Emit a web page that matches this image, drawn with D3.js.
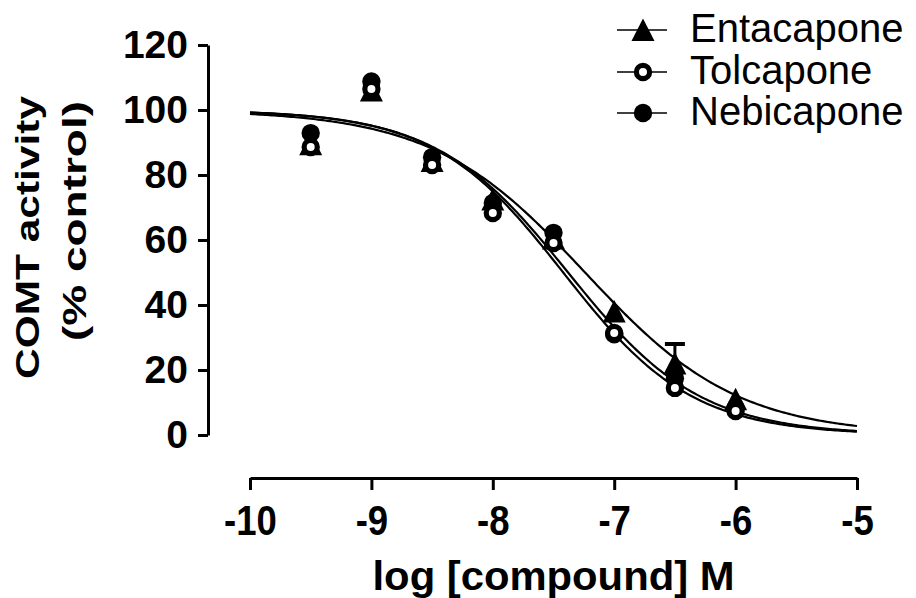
<!DOCTYPE html>
<html><head><meta charset="utf-8">
<script src="https://cdn.jsdelivr.net/npm/d3@7"></script>
<style>body{margin:0;background:#fff}</style></head>
<body><svg id="c" width="916" height="598"></svg>
<script>
const series = ["Entacapone", "Tolcapone", "Nebicapone"];
const doses = [-9.5, -9, -8.5, -8, -7.5, -7, -6.5, -6];
const entacapone = [89.5, 106, 84.3, 72.5, 60.5, 38, 22, 11];
const tolcapone = [88.6, 106.5, 83.1, 68.3, 59.1, 31.4, 14.5, 7.4];
const nebicapone = [92.9, 108.8, 85.5, 71.4, 62.2, 31, 17.5, 8.3];
const entacaponeErr = [0, 0, 0, 0, 0, 0, 6, 0];
// fitted sigmoidal dose-response parameters
const fitTop = [100, 100, 100];
const fitBottom = [0, 0, 0];
const fitLogIC50 = [-7.24, -7.42, -7.38];
const fitHill = [0.69, 0.82, 0.8];
const xTicks = [-10, -9, -8, -7, -6, -5];
const yTicks = [0, 20, 40, 60, 80, 100, 120];

const FONT = "'Liberation Sans', Arial, sans-serif";
const svg = d3.select("#c");
const x = d3.scaleLinear().domain([-10, -5]).range([250, 857]);
const y = d3.scaleLinear().domain([0, 120]).range([435, 45]);

// y axis
const ya = svg.append("g").attr("transform", "translate(208,0)")
  .call(d3.axisLeft(y).tickValues(yTicks).tickSize(10).tickSizeOuter(0).tickPadding(10).tickFormat(d => String(d)));
ya.select(".domain").attr("stroke-width", 3);
ya.selectAll(".tick line").attr("stroke-width", 3);
ya.selectAll(".tick text").attr("font-family", FONT).attr("font-weight", "bold").attr("font-size", 39).attr("fill", "#000");

// x axis
const xa = svg.append("g").attr("transform", "translate(0,478)")
  .call(d3.axisBottom(x).tickValues(xTicks).tickSize(12).tickSizeOuter(0).tickPadding(14).tickFormat(d => String(d)));
xa.select(".domain").attr("stroke-width", 3);
xa.selectAll(".tick line").attr("stroke-width", 3);
xa.selectAll(".tick text").attr("font-family", FONT).attr("font-weight", "bold").attr("font-size", 43).attr("fill", "#000")
  .attr("transform", "scale(0.85,1)");

// axis titles
svg.append("text").attr("transform", "translate(39,237.5) rotate(-90)")
  .attr("text-anchor", "middle").attr("font-family", FONT).attr("font-weight", "bold").attr("font-size", 33)
  .attr("textLength", 283).attr("lengthAdjust", "spacingAndGlyphs").text("COMT activity");
svg.append("text").attr("transform", "translate(86,221) rotate(-90)")
  .attr("text-anchor", "middle").attr("font-family", FONT).attr("font-weight", "bold").attr("font-size", 33)
  .attr("textLength", 240).attr("lengthAdjust", "spacingAndGlyphs").text("(% control)");
svg.append("text").attr("x", 553.5).attr("y", 590)
  .attr("text-anchor", "middle").attr("font-family", FONT).attr("font-weight", "bold").attr("font-size", 40)
  .attr("textLength", 362).attr("lengthAdjust", "spacingAndGlyphs").text("log [compound] M");

// fitted curves
const grid = d3.range(-10, -4.999, 0.02);
const line = d3.line().x(d => x(d[0])).y(d => y(d[1]));
series.forEach((s, i) => {
  const pts = grid.map(v => [v, fitBottom[i] + (fitTop[i] - fitBottom[i]) / (1 + Math.pow(10, fitHill[i] * (v - fitLogIC50[i])))]);
  svg.append("path").attr("d", line(pts)).attr("fill", "none").attr("stroke", "#000").attr("stroke-width", 2.2);
});

// markers
const tri = "M0,-11.5L11.5,11L-11.5,11Z";
function drawMarker(g, kind) {
  if (kind === 0) g.append("path").attr("d", tri).attr("fill", "#000");
  else if (kind === 1) g.append("circle").attr("r", 6.6).attr("fill", "#fff").attr("stroke", "#000").attr("stroke-width", 5.2);
  else g.append("circle").attr("r", 9.2).attr("fill", "#000");
}
const data = [entacapone, tolcapone, nebicapone];
// error bars (entacapone)
doses.forEach((d, j) => {
  if (entacaponeErr[j] > 0) {
    const top = y(entacapone[j] + entacaponeErr[j]);
    svg.append("line").attr("x1", x(d)).attr("x2", x(d)).attr("y1", y(entacapone[j])).attr("y2", top).attr("stroke", "#000").attr("stroke-width", 3);
    svg.append("line").attr("x1", x(d) - 10).attr("x2", x(d) + 10).attr("y1", top).attr("y2", top).attr("stroke", "#000").attr("stroke-width", 4);
  }
});
[2, 0, 1].forEach(i => {
  doses.forEach((d, j) => {
    const g = svg.append("g").attr("transform", `translate(${x(d)},${y(data[i][j])})`);
    drawMarker(g, i);
  });
});

// legend
const legY = [30, 72, 113];
series.forEach((s, i) => {
  svg.append("line").attr("x1", 617).attr("x2", 667).attr("y1", legY[i]).attr("y2", legY[i]).attr("stroke", "#000").attr("stroke-width", 1.5);
  const g = svg.append("g").attr("transform", `translate(643,${legY[i]})`);
  drawMarker(g, i);
  svg.append("text").attr("x", 690).attr("y", legY[i] + 12).attr("font-family", FONT).attr("font-size", 40).attr("fill", "#000").text(s);
});
</script></body></html>
